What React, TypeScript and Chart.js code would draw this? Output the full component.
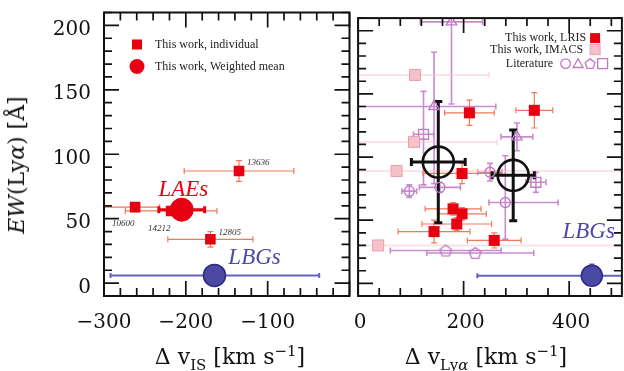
import React, { useEffect, useRef } from 'react';
import { Chart, registerables } from 'chart.js';

Chart.register(...registerables);

type Err = number | [number, number];

// ---------- shared vertical axis: EW(Lyα) ----------
const EW_MIN = -10;
const EW_MAX = 210;
const EW_TICKS = [0, 50, 100, 150, 200];
const EW_MINOR_STEP = 10;

// ---------- left panel axis: Δv_IS ----------
const IS_MIN = -300;
const IS_MAX = 0;
const IS_MAJOR = [-300, -200, -100, 0];
const IS_LABELS = [-300, -200, -100];
const IS_MINOR_STEP = 20;

// ---------- right panel axis: Δv_Lyα ----------
const LYA_MIN = 0;
const LYA_MAX = 500;
const LYA_MAJOR = [0, 200, 400];
const LYA_LABELS = [0, 200, 400];
const LYA_MINOR_STEP = 40;

// left panel: individual LAEs
const IND_ID = ['13636', '10600', '14212', '12805'];
const IND_DV_IS = [-135, -262, -218, -170];
const IND_EW = [87, 59, 56, 34];
const IND_DV_IS_ERR: Err[] = [67, [45, 30], 56, 52];
const IND_EW_ERR: Err[] = [8, 3, 3, 6];

// left panel: weighted mean of the LAEs
const MEAN_DV_IS = [-205];
const MEAN_EW_IS = [57];
const MEAN_DV_IS_ERR: Err[] = [28];

// left panel: LBG comparison
const LBG_DV_IS = [-165];
const LBG_EW_IS = [6];
const LBG_DV_IS_ERR: Err[] = [[127, 128]];
const LBG_EW_IS_ERR: Err[] = [[0, 8]];

// right panel: this work, LRIS
const LRIS_DV = [211, 334, 197, 180, 197, 187, 144, 258];
const LRIS_EW = [135, 137, 87, 59, 55, 47, 41, 34];
const LRIS_DV_ERR: Err[] = [47, 35, 74, 53, 46, 66, 68, 51];
const LRIS_EW_ERR: Err[] = [10, 14, 8, 5, 5, 5, 9, 6];

// right panel: this work, IMACS
const IMACS_DV = [108, 106, 73, 38];
const IMACS_EW = [165, 112, 89, 30];
const IMACS_DV_ERR: Err[] = [140, 157, 480, 480];

// right panel: literature
const LIT_SHAPE = ['triangle', 'triangle', 'rect', 'circle', 'circle', 'circle', 'triangle', 'rect', 'circle', 'pentagon', 'pentagon'];
const LIT_DV = [177, 144, 124, 155, 97, 250, 301, 337, 279, 166, 222];
const LIT_EW = [207, 140, 118, 76, 73, 88, 116, 80, 64, 26, 24];
const LIT_DV_ERR: Err[] = [59, [150, 117], 19, 39, 14, 23, 30, 19, [31, 100], 105, [92, 111]];
const LIT_EW_ERR: Err[] = [[65, 30], [61, 43], [40, 34], 4, 5, 7, 11, 8, [29, 37], 0, 0];

// right panel: stacked means
const STACK_DV = [152, 294];
const STACK_EW = [96, 85.5];
const STACK_DV_ERR: Err[] = [51, 40];
const STACK_EW_ERR: Err[] = [48, 36];

// right panel: LBG comparison
const LBG_DV_LYA = [443];
const LBG_EW_LYA = [6];
const LBG_DV_LYA_ERR: Err[] = [217];
const LBG_EW_LYA_ERR: Err[] = [[0, 9]];

// ---------- styles ----------
const INK = '#111';
const RED = '#e60012';
const RED_BAR = '#f07a58';
const PINK_FILL = '#f6c2ca';
const PINK_EDGE = '#ee9cab';
const PINK_BAR = 'rgba(246,200,208,0.5)';
const PURPLE = '#c07ac5';
const PURPLE_BAR = '#c98bcd';
const BLUE_FILL = '#4c49a3';
const BLUE_EDGE = '#2d2a86';
const BLUE_BAR = '#6660bf';
const SERIF = '"DejaVu Serif", serif';
const SMALL_SERIF = '"Liberation Serif", serif';
const LIT_RADIUS: Record<string, number> = { circle: 5, triangle: 6, rect: 7, pentagon: 6 };
const ID_OFFSET: [number, number][] = [[8, -8], [-23, 17], [-23, 18], [8, -7]];
const MAJOR_LEN = 15;
const MINOR_LEN = 8;

const pts = (xs: number[], ys: number[]) => xs.map((x, i) => ({ x, y: ys[i] }));
const pair = (e: Err | undefined): [number, number] =>
  e === undefined ? [0, 0] : Array.isArray(e) ? e : [e, e];
const minus = (v: number) => (v < 0 ? '\u2212' + Math.abs(v) : String(v));

function shapePath(ctx: CanvasRenderingContext2D, shape: string, x: number, y: number, r: number) {
  ctx.beginPath();
  if (shape === 'circle') {
    ctx.arc(x, y, r, 0, Math.PI * 2);
  } else if (shape === 'rect') {
    const s = r * Math.SQRT1_2;
    ctx.rect(x - s, y - s, 2 * s, 2 * s);
  } else {
    const n = shape === 'triangle' ? 3 : 5;
    for (let k = 0; k < n; k++) {
      const a = -Math.PI / 2 + (k * 2 * Math.PI) / n;
      const px = x + Math.cos(a) * r;
      const py = y + Math.sin(a) * r;
      if (k === 0) ctx.moveTo(px, py);
      else ctx.lineTo(px, py);
    }
    ctx.closePath();
  }
}

function pentagonImage(r: number) {
  const c = document.createElement('canvas');
  const size = Math.ceil(r * 2 + 4);
  c.width = size;
  c.height = size;
  const g = c.getContext('2d')!;
  g.strokeStyle = PURPLE;
  g.lineWidth = 1.4;
  shapePath(g, 'pentagon', size / 2, size / 2 + 0.5, r);
  g.stroke();
  return c;
}

// error bars from each dataset's `err` block, drawn under the markers
const errorBars = {
  id: 'errorBars',
  beforeDatasetsDraw(chart: any) {
    const { ctx, chartArea: a, scales } = chart;
    const xs = scales.x;
    const ys = scales.y;
    ctx.save();
    ctx.beginPath();
    ctx.rect(a.left, a.top, a.right - a.left, a.bottom - a.top);
    ctx.clip();
    const sets = chart.data.datasets;
    for (let i = sets.length - 1; i >= 0; i--) {
      const d = sets[i];
      if (!d.err) continue;
      const { x: ex, y: ey, color, width, cap } = d.err;
      ctx.strokeStyle = color;
      ctx.lineWidth = width;
      d.data.forEach((p: any, j: number) => {
        const px = xs.getPixelForValue(p.x);
        const py = ys.getPixelForValue(p.y);
        const [xl, xh] = pair(ex ? ex[j] : undefined);
        const [yl, yh] = pair(ey ? ey[j] : undefined);
        ctx.beginPath();
        if (xl || xh) {
          const x0 = xs.getPixelForValue(p.x - xl);
          const x1 = xs.getPixelForValue(p.x + xh);
          ctx.moveTo(x0, py);
          ctx.lineTo(x1, py);
          if (xl) { ctx.moveTo(x0, py - cap / 2); ctx.lineTo(x0, py + cap / 2); }
          if (xh) { ctx.moveTo(x1, py - cap / 2); ctx.lineTo(x1, py + cap / 2); }
        }
        if (yl || yh) {
          const y0 = ys.getPixelForValue(p.y - yl);
          const y1 = ys.getPixelForValue(p.y + yh);
          ctx.moveTo(px, y0);
          ctx.lineTo(px, y1);
          if (yl) { ctx.moveTo(px - cap / 2, y0); ctx.lineTo(px + cap / 2, y0); }
          if (yh) { ctx.moveTo(px - cap / 2, y1); ctx.lineTo(px + cap / 2, y1); }
        }
        ctx.stroke();
      });
    }
    ctx.restore();
  },
};

// boxed frame with inward ticks on all four sides, plus the tick labels
const frame = (xMajor: number[], xStep: number, xLabels: number[], yLabels: number[], xLabelShift: number) => ({
  id: 'frame',
  afterDatasetsDraw(chart: any) {
    const { ctx, chartArea: a, scales } = chart;
    const xs = scales.x;
    const ys = scales.y;
    ctx.save();
    ctx.strokeStyle = INK;
    ctx.lineWidth = 1.7;
    ctx.beginPath();
    for (let v = Math.ceil(xs.min / xStep) * xStep; v <= xs.max + 1e-6; v += xStep) {
      const len = xMajor.includes(v) ? MAJOR_LEN : MINOR_LEN;
      const px = xs.getPixelForValue(v);
      ctx.moveTo(px, a.bottom);
      ctx.lineTo(px, a.bottom - len);
      ctx.moveTo(px, a.top);
      ctx.lineTo(px, a.top + len);
    }
    for (let v = Math.ceil(ys.min / EW_MINOR_STEP) * EW_MINOR_STEP; v <= ys.max + 1e-6; v += EW_MINOR_STEP) {
      const len = EW_TICKS.includes(v) ? MAJOR_LEN : MINOR_LEN;
      const py = ys.getPixelForValue(v);
      ctx.moveTo(a.left, py);
      ctx.lineTo(a.left + len, py);
      ctx.moveTo(a.right, py);
      ctx.lineTo(a.right - len, py);
    }
    ctx.stroke();
    ctx.lineWidth = 2;
    ctx.strokeRect(a.left, a.top, a.right - a.left, a.bottom - a.top);

    ctx.fillStyle = INK;
    ctx.font = `20px ${SERIF}`;
    ctx.textBaseline = 'alphabetic';
    ctx.textAlign = 'center';
    xLabels.forEach((v) => ctx.fillText(minus(v), xs.getPixelForValue(v) + xLabelShift, a.bottom + 32));
    ctx.textAlign = 'right';
    yLabels.forEach((v) => ctx.fillText(String(v), a.left - 13, ys.getPixelForValue(v) + 9.5));
    ctx.restore();
  },
});

type Note = { text: string; x: number; y: number; color: string };

// italic population labels placed in data coordinates
const notes = (items: Note[]) => ({
  id: 'notes',
  afterDatasetsDraw(chart: any) {
    const { ctx, scales } = chart;
    ctx.save();
    ctx.font = `italic 23px ${SMALL_SERIF}`;
    ctx.textAlign = 'center';
    ctx.textBaseline = 'middle';
    items.forEach((n) => {
      ctx.fillStyle = n.color;
      ctx.fillText(n.text, scales.x.getPixelForValue(n.x), scales.y.getPixelForValue(n.y));
    });
    ctx.restore();
  },
});

const leftExtras = {
  id: 'leftExtras',
  afterDatasetsDraw(chart: any) {
    const { ctx, chartArea: a, scales } = chart;
    ctx.save();
    // object IDs next to the individual LAEs
    ctx.font = `italic 9px ${SMALL_SERIF}`;
    ctx.fillStyle = '#333';
    ctx.textAlign = 'left';
    ctx.textBaseline = 'middle';
    IND_ID.forEach((id, i) => {
      const px = scales.x.getPixelForValue(IND_DV_IS[i]);
      const py = scales.y.getPixelForValue(IND_EW[i]);
      ctx.fillText(id, px + ID_OFFSET[i][0], py + ID_OFFSET[i][1]);
    });
    // legend
    const lx = a.left + 33;
    ctx.fillStyle = RED;
    ctx.fillRect(lx - 5, a.top + 32 - 5, 10, 10);
    ctx.beginPath();
    ctx.arc(lx, a.top + 54, 7.5, 0, Math.PI * 2);
    ctx.fill();
    ctx.font = `12px ${SMALL_SERIF}`;
    ctx.fillStyle = '#222';
    ctx.fillText('This work, individual', a.left + 51, a.top + 32.5);
    ctx.fillText('This work, Weighted mean', a.left + 51, a.top + 54);
    ctx.restore();
  },
};

const rightLegend = {
  id: 'rightLegend',
  afterDatasetsDraw(chart: any) {
    const { ctx, chartArea: a } = chart;
    const L = a.left;
    const T = a.top;
    ctx.save();
    ctx.font = `12px ${SMALL_SERIF}`;
    ctx.fillStyle = '#222';
    ctx.textAlign = 'right';
    ctx.textBaseline = 'middle';
    ctx.fillText('This work, LRIS', L + 228, T + 20);
    ctx.fillText('This work, IMACS', L + 225, T + 31.5);
    ctx.fillText('Literature', L + 195, T + 45.5);
    ctx.fillStyle = RED;
    ctx.fillRect(L + 237 - 5, T + 20 - 5, 10, 10);
    ctx.fillStyle = PINK_FILL;
    ctx.strokeStyle = PINK_EDGE;
    ctx.lineWidth = 1;
    ctx.fillRect(L + 237 - 5, T + 31.5 - 5, 10, 10);
    ctx.strokeRect(L + 237 - 5, T + 31.5 - 5, 10, 10);
    ctx.strokeStyle = PURPLE;
    ctx.lineWidth = 1.3;
    const ly = T + 45.5;
    shapePath(ctx, 'circle', L + 207.5, ly, 4.8);
    ctx.stroke();
    shapePath(ctx, 'triangle', L + 220, ly + 1, 5.8);
    ctx.stroke();
    shapePath(ctx, 'pentagon', L + 232, ly + 0.5, 5.2);
    ctx.stroke();
    shapePath(ctx, 'rect', L + 244.5, ly, 7);
    ctx.stroke();
    ctx.restore();
  },
};

// the scales are used for mapping only; ticks and labels come from the frame plugin
const baseOptions = (xMin: number, xMax: number, padding: any) => ({
  animation: false as const,
  responsive: false,
  events: [],
  layout: { padding },
  plugins: { legend: { display: false }, tooltip: { enabled: false } },
  scales: {
    x: { type: 'linear' as const, min: xMin, max: xMax, display: false },
    y: { type: 'linear' as const, min: EW_MIN, max: EW_MAX, display: false },
  },
});

function makeLeft(canvas: HTMLCanvasElement) {
  return new Chart(canvas, {
    type: 'scatter',
    data: {
      datasets: [
        {
          data: pts(MEAN_DV_IS, MEAN_EW_IS),
          pointStyle: 'circle',
          pointRadius: 11.5,
          backgroundColor: RED,
          borderColor: RED,
          borderWidth: 1,
          err: { x: MEAN_DV_IS_ERR, color: RED, width: 3, cap: 7 },
        } as any,
        {
          data: pts(IND_DV_IS, IND_EW),
          pointStyle: 'rect',
          pointRadius: 7.5,
          backgroundColor: RED,
          borderColor: RED,
          borderWidth: 0,
          err: { x: IND_DV_IS_ERR, y: IND_EW_ERR, color: RED_BAR, width: 1.2, cap: 6 },
        } as any,
        {
          data: pts(LBG_DV_IS, LBG_EW_IS),
          pointStyle: 'circle',
          pointRadius: 11,
          backgroundColor: BLUE_FILL,
          borderColor: BLUE_EDGE,
          borderWidth: 1.5,
          err: { x: LBG_DV_IS_ERR, y: LBG_EW_IS_ERR, color: BLUE_BAR, width: 2, cap: 5 },
        } as any,
      ],
    },
    options: baseOptions(IS_MIN, IS_MAX, { top: 12, right: 5, left: 104, bottom: 75 }) as any,
    plugins: [
      errorBars,
      frame(IS_MAJOR, IS_MINOR_STEP, IS_LABELS, EW_TICKS, 0),
      notes([
        { text: 'LAEs', x: -203, y: 72, color: RED },
        { text: 'LBGs', x: -116, y: 19.5, color: '#4f47aa' },
      ]),
      leftExtras,
    ],
  });
}

function makeRight(canvas: HTMLCanvasElement) {
  const pentagon = pentagonImage(LIT_RADIUS.pentagon);
  return new Chart(canvas, {
    type: 'scatter',
    data: {
      datasets: [
        {
          data: pts(STACK_DV, STACK_EW),
          pointStyle: 'circle',
          pointRadius: 15.5,
          backgroundColor: 'rgba(0,0,0,0)',
          borderColor: INK,
          borderWidth: 2.6,
          err: { x: STACK_DV_ERR, y: STACK_EW_ERR, color: INK, width: 3, cap: 8 },
        } as any,
        {
          data: pts(LRIS_DV, LRIS_EW),
          pointStyle: 'rect',
          pointRadius: 7.8,
          backgroundColor: RED,
          borderColor: RED,
          borderWidth: 0,
          err: { x: LRIS_DV_ERR, y: LRIS_EW_ERR, color: RED_BAR, width: 1.2, cap: 6 },
        } as any,
        {
          data: pts(IMACS_DV, IMACS_EW),
          pointStyle: 'rect',
          pointRadius: 7.8,
          backgroundColor: PINK_FILL,
          borderColor: PINK_EDGE,
          borderWidth: 1,
          err: { x: IMACS_DV_ERR, color: PINK_BAR, width: 2, cap: 6 },
        } as any,
        {
          data: pts(LIT_DV, LIT_EW),
          pointStyle: (c: any) => (LIT_SHAPE[c.dataIndex] === 'pentagon' ? pentagon : LIT_SHAPE[c.dataIndex]),
          pointRadius: LIT_SHAPE.map((s) => LIT_RADIUS[s]),
          backgroundColor: 'rgba(0,0,0,0)',
          borderColor: PURPLE,
          borderWidth: 1.4,
          err: { x: LIT_DV_ERR, y: LIT_EW_ERR, color: PURPLE_BAR, width: 1.6, cap: 6 },
        } as any,
        {
          data: pts(LBG_DV_LYA, LBG_EW_LYA),
          pointStyle: 'circle',
          pointRadius: 10.5,
          backgroundColor: BLUE_FILL,
          borderColor: BLUE_EDGE,
          borderWidth: 1.5,
          err: { x: LBG_DV_LYA_ERR, y: LBG_EW_LYA_ERR, color: BLUE_BAR, width: 2, cap: 5 },
        } as any,
      ],
    },
    options: baseOptions(LYA_MIN, LYA_MAX, { top: 12, right: 15, left: 17, bottom: 75 }) as any,
    plugins: [
      errorBars,
      frame(LYA_MAJOR, LYA_MINOR_STEP, LYA_LABELS, [], 2),
      notes([{ text: 'LBGs', x: 437, y: 41, color: '#4f47aa' }]),
      rightLegend,
    ],
  });
}

const subStyle: React.CSSProperties = { fontSize: 15, position: 'relative', top: 6 };
const supStyle: React.CSSProperties = { fontSize: 15, position: 'relative', top: -8 };
const titleStyle: React.CSSProperties = {
  position: 'absolute',
  transform: 'translate(-50%, -50%)',
  whiteSpace: 'nowrap',
  fontFamily: SERIF,
  fontSize: 22,
  lineHeight: '22px',
  color: INK,
};

export default function App() {
  const leftRef = useRef<HTMLCanvasElement>(null);
  const rightRef = useRef<HTMLCanvasElement>(null);

  useEffect(() => {
    const charts = [makeLeft(leftRef.current!), makeRight(rightRef.current!)];
    return () => charts.forEach((c) => c.destroy());
  }, []);

  return (
    <div style={{ position: 'absolute', left: 0, top: 0, width: 624, height: 371, overflow: 'hidden', background: '#fff' }}>
      <canvas ref={leftRef} width={362} height={371} style={{ position: 'absolute', left: 0, top: 0, width: 362, height: 371 }} />
      <canvas ref={rightRef} width={300} height={371} style={{ position: 'absolute', left: 340, top: 0, width: 300, height: 371 }} />
      <div style={{ ...titleStyle, left: 17, top: 165, transform: 'translate(-50%, -50%) rotate(-90deg)' }}>
        <i>EW</i>(Ly<i>α</i>) [Å]
      </div>
      <div style={{ ...titleStyle, left: 230, top: 358 }}>
        Δ v<span style={subStyle}>IS</span> [km s<span style={supStyle}>−1</span>]
      </div>
      <div style={{ ...titleStyle, left: 486, top: 358 }}>
        Δ v<span style={subStyle}>Ly<i>α</i></span> [km s<span style={supStyle}>−1</span>]
      </div>
    </div>
  );
}
